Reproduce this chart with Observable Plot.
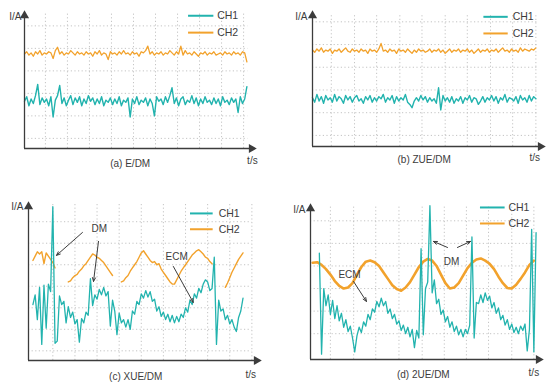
<!DOCTYPE html>
<html><head><meta charset="utf-8">
<script src="https://cdn.jsdelivr.net/npm/d3@7"></script>
<script src="https://cdn.jsdelivr.net/npm/@observablehq/plot@0.6"></script>
<style>
body{margin:0;background:#fff;}
#wrap{position:relative;width:550px;height:388px;overflow:hidden;background:#fff;}
.p{position:absolute;width:275px;height:194px;}
</style></head><body>
<div id="wrap"></div>
<script>
// ---------- data (time in 1/20 division, current in 1/20 division) ----------
const seriesNames = ["CH1", "CH2"];
const captions = ["(a) E/DM", "(b) ZUE/DM", "(c) XUE/DM", "(d) 2UE/DM"];
const yLabel = "I/A", xLabel = "t/s";

// (a) E/DM
const a_ch2 = [84,86,83,85,82,86,84,87,83,85, 84,86,85,80,87,90,84,86,83,85, 84,87,85,83,86,84,85,83,86,84,
  85,82,86,84,87,83,85,84,79,86, 84,85,83,86,84,87,84,85,83,86, 84,85,82,86,85,87,91,84,86,83,
  85,84,86,83,85,84,87,85,83,86, 84,91,83,87,84,85,83,86,84,82, 85,84,86,83,85,84,86,83,84,85,
  83,86,84,85,83,86,84,85,83,86, 85,77];
const a_ch1 = [42,46,38,44,40,47,57,39,45,41, 44,38,46,28,43,47,56,40,45,38, 43,47,39,45,41,46,38,44,40,47,
  42,45,39,44,40,46,38,43,41,45, 39,44,40,46,38,43,41,45,28,44, 40,46,39,43,41,45,38,44,40,29,
  46,42,44,39,46,41,47,54,40,45, 38,44,46,39,43,41,47,40,45,38, 44,40,46,41,43,39,45,40,44,38,
  46,41,43,39,45,41,44,32,46,40, 44,55];

// (b) ZUE/DM
const b_ch2 = [87,85,88,86,89,85,87,86,88,84, 87,86,88,85,87,89,86,85,88,86, 87,85,88,86,87,84,88,86,87,85,
  88,93,86,87,85,88,86,87,84,88, 86,87,85,88,86,84,87,85,88,86, 87,85,86,88,85,87,86,88,85,87,
  84,86,88,85,87,86,88,85,87,86, 88,85,87,84,86,88,85,87,86,88, 85,87,86,88,85,87,89,86,87,85,
  88,86,87,85,89,86,88,87,86,88, 87,89];
const b_ch1 = [44,40,47,41,45,39,46,42,44,40, 47,41,45,43,39,46,42,45,40,44, 46,41,43,39,45,42,46,40,44,41,
  45,43,47,40,44,42,46,39,45,41, 44,42,47,40,38,35,41,44,41,46, 42,45,40,44,41,43,39,53,33,46,
  41,44,40,45,39,43,41,45,39,44, 42,46,40,44,43,38,41,45,40,44, 42,46,41,45,39,44,42,47,40,44,
  43,41,45,39,46,42,44,40,46,41, 45,43];

// (c) XUE/DM  (samples from t=4, every 2)
const c_ch1 = [52,61,38,68,15,70,30,71,64,143, 16,18,60,52,55,35,50,40,45,34, 38,17,39,35,45,42,76,51,61,57,
  66,61,68,60,64,32,56,46,24,44, 35,38,31,38,29,46,43,55,52,62, 58,65,59,64,55,57,46,50,41,45,
  38,43,36,42,35,41,36,43,40,49, 45,56,52,62,58,67,63,71,75,73, 65,67,96,15,56,46,48,38,42,34,
  38,31,27,40,46,58];
const c_ch2 = [93,97,101,99,101,90,100,97,94,91, 86,null,null,null,null,null,73,74,77,79, 80,83,85,88,90,93,96,99,98,96,
  95,93,91,88,85,82,79,null,null,null, 73,74,77,79,83,86,89,92,96,100, 102,99,96,93,91,92,89,90,85,82,
  79,76,73,71,71,75,79,83,86,89, 92,95,98,100,102,103,101,99,96,95, 92,90,null,null,null,null,null,68,72,77,
  82,86,90,94,97,100];

// (d) 2UE/DM  (CH1 from t=8 every 2, CH2 from t=2 every 4)
const d_ch1 = [99,5,66,50,60,42,55,38,50,36, 43,30,37,26,31,20,7,22,30,25, 35,31,42,37,47,44,54,49,57,50,
  54,43,47,38,42,33,36,27,32,24, 30,21,28,11,27,20,103,23,66,72, 143,62,74,52,56,42,46,35,40,30,
  35,26,31,23,28,21,28,24,32,114, 20,53,52,60,53,62,55,59,48,53, 43,48,37,41,32,37,28,33,25,30,
  24,31,27,33,8,28,121,7,118];
const d_ch2 = [90,90.5,88,84,79,73,68.5,66,67,71, 79,86,91,92,90.5,87,81,75,69,65.5, 64,67,72,79,86,91,93.5,92,87,79,
  71,66,67,71,78,85,90,93,94,92, 89,84,77,71,66.5,66,69.5,75,81,88, 92];

// ---------- styles ----------
const TEAL = "#22b3ae", ORANGE = "#f2a22c", INK = "#3c3c3c", GRID = "#bdbdbd";
const FONT = "'Liberation Sans', Arial, Helvetica, sans-serif";

function series(t0, dt, vals) { return vals.map((v, i) => ({t: t0 + i * dt, v})); }

function panel(c) {
  const X = 208;
  const marks = [
    Plot.ruleX(c.gridX, {y1: 0, y2: c.ymax, stroke: GRID, strokeWidth: 0.9, strokeDasharray: "1.2,2.4"}),
    Plot.ruleY(c.gridY, {x1: 0, x2: c.gridEnd, stroke: GRID, strokeWidth: 0.9, strokeDasharray: "1.2,2.4"}),
    Plot.line(c.ch2, {x: "t", y: "v", stroke: ORANGE, strokeWidth: c.w2}),
    Plot.line(c.ch1, {x: "t", y: "v", stroke: TEAL, strokeWidth: c.w1}),
    Plot.ruleY([0], {x1: 0, x2: X, stroke: INK, strokeWidth: 1.3}),
    Plot.ruleX([0], {y1: 0, y2: c.ymax, stroke: INK, strokeWidth: 1.3}),
    Plot.dot([0], {x: () => X, y: () => 0, symbol: "triangle", r: 3.4, fill: INK, stroke: "none", rotate: 90, dx: -2}),
    Plot.dot([0], {x: () => 0, y: () => c.ymax, symbol: "triangle", r: 3.4, fill: INK, stroke: "none", dy: 2}),
    // legend
    Plot.ruleY([0], {y: () => c.leg.y1, x1: () => c.leg.x1, x2: () => c.leg.x2, stroke: TEAL, strokeWidth: 2}),
    Plot.ruleY([0], {y: () => c.leg.y2, x1: () => c.leg.x1, x2: () => c.leg.x2, stroke: ORANGE, strokeWidth: 2}),
    Plot.text([seriesNames[0]], {x: () => c.leg.tx, y: () => c.leg.y1, text: d => d, textAnchor: "start", fill: INK, fontSize: 10.5}),
    Plot.text([seriesNames[1]], {x: () => c.leg.tx, y: () => c.leg.y2, text: d => d, textAnchor: "start", fill: INK, fontSize: 10.5}),
    // axis labels and caption
    Plot.text([yLabel], {x: () => 0, y: () => c.yl, text: d => d, textAnchor: "end", dx: c.ydx, fill: INK, fontSize: 10}),
    Plot.text([xLabel], {x: () => c.xl, y: () => 0, text: d => d, dy: c.xdy, fill: INK, fontSize: 10}),
    Plot.text([c.caption], {x: () => c.cx, y: () => 0, text: d => d, dy: c.cdy, fill: INK, fontSize: 10})
  ];
  for (const a of (c.notes || [])) {
    marks.push(Plot.text([a.label], {x: () => a.x, y: () => a.y, text: d => d, fill: INK, fontSize: 10}));
    for (const r of a.arrows) {
      marks.push(Plot.arrow([r], {x1: d => d[0], y1: d => d[1], x2: d => d[2], y2: d => d[3], stroke: INK, strokeWidth: 1, headLength: 6, headAngle: 45}));
    }
  }
  return Plot.plot({
    width: 275, height: 194,
    marginLeft: c.ml, marginRight: c.mr, marginTop: c.mt, marginBottom: c.mb,
    x: {domain: [0, X], axis: null},
    y: {domain: [0, c.ymax], axis: null},
    style: {fontFamily: FONT, background: "transparent", overflow: "visible"},
    marks
  });
}

const panels = [
  {pos: [0, 0], ml: 24, mr: 22, mt: 13, mb: 46, ymax: 120,
   gridX: [19,39,59,79,99,119,139,159,179,199], gridY: [9,29,49,69,89,109], gridEnd: 203,
   ch1: series(0, 2, a_ch1), ch2: series(0, 2, a_ch2), w1: 1.4, w2: 1.3,
   leg: {x1: 149, x2: 172, tx: 175, y1: 118, y2: 103},
   yl: 117, ydx: -3, xl: 207, xdy: 12, caption: captions[0], cx: 96, cdy: 15},
  {pos: [275, 0], ml: 37, mr: 8, mt: 13, mb: 48, ymax: 120,
   gridX: [17,38,58,79,99,120,140,161,181,202], gridY: [10,30.5,51,71.5,92,112.5], gridEnd: 203,
   ch1: series(0, 2, b_ch1), ch2: series(0, 2, b_ch2), w1: 1.4, w2: 1.3,
   leg: {x1: 155, x2: 177, tx: 181, y1: 117, y2: 102},
   yl: 117, ydx: -5, xl: 201, xdy: 11, caption: captions[1], cx: 101, cdy: 13},
  {pos: [0, 194], ml: 28, mr: 17, mt: 10, mb: 28, ymax: 145,
   gridX: [22,42,62,82,102,122,142,162,182,202], gridY: [9,29,49,69,89,109,129], gridEnd: 202,
   ch1: series(4, 2, c_ch1), ch2: series(4, 2, c_ch2), w1: 1.3, w2: 1.4,
   leg: {x1: 146.5, x2: 167, tx: 172, y1: 136.7, y2: 122},
   yl: 143, ydx: -5, xl: 201, xdy: 14, caption: captions[2], cx: 97, cdy: 16,
   notes: [
     {label: "DM", x: 64, y: 122, arrows: [[48.8, 119, 25.3, 97.7], [63.3, 110.7, 58.8, 73.5]]},
     {label: "ECM", x: 134, y: 96.7, arrows: [[131, 87.4, 149, 54]]}
   ]},
  {pos: [275, 194], ml: 35, mr: 10, mt: 12, mb: 29, ymax: 142.3,
   gridX: [18,39,59,80,101,121,141,161,182,202], gridY: [24,45,66,87,108,129], gridEnd: 203,
   ch1: series(8, 2, d_ch1), ch2: series(2, 4, d_ch2), w1: 1.3, w2: 2.6,
   leg: {x1: 153.7, x2: 176, tx: 179, y1: 141.4, y2: 126.5},
   yl: 139.5, ydx: -5, xl: 202, xdy: 13, caption: captions[3], cx: 102, cdy: 15,
   notes: [
     {label: "ECM", x: 35.3, y: 79, arrows: [[38.9, 72.6, 50.6, 54]]},
     {label: "DM", x: 127.5, y: 91, arrows: [[123.9, 104.2, 111.2, 109.8], [132.9, 104.2, 144.7, 109.8]]}
   ]}
];

const wrap = document.getElementById("wrap");
for (const c of panels) {
  const div = document.createElement("div");
  div.className = "p";
  div.style.left = c.pos[0] + "px";
  div.style.top = c.pos[1] + "px";
  div.appendChild(panel(c));
  wrap.appendChild(div);
}
</script></body></html>
